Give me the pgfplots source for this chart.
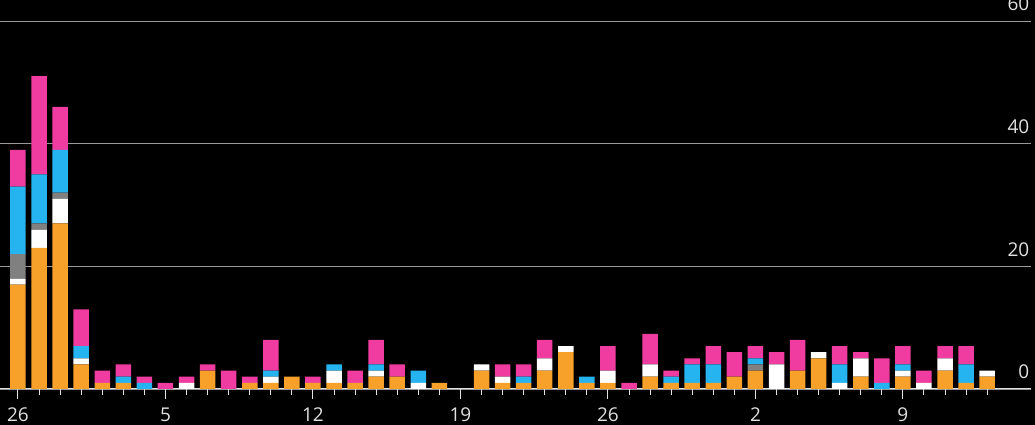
\documentclass[border=0pt]{standalone}
\usepackage{fontspec}
\setmainfont{Open Sans}
\usepackage{pgfplots}
\usepackage{pgfplotstable}
\pgfplotsset{compat=1.18}

\definecolor{cOrange}{RGB}{247,160,42}
\definecolor{cWhite}{RGB}{255,255,255}
\definecolor{cGray}{RGB}{128,128,128}
\definecolor{cBlue}{RGB}{38,180,240}
\definecolor{cPink}{RGB}{240,60,160}
\definecolor{txt}{RGB}{225,225,225}

% day index from Feb 26; o=orange w=white g=gray b=blue p=pink
\pgfplotstableread{
x  o  w  g  b  p
0  17 1  4  11 6
1  23 3  1  8  16
2  27 4  1  7  7
3  4  1  0  2  6
4  1  0  0  0  2
5  1  0  0  1  2
6  0  0  0  1  1
7  0  0  0  0  1
8  0  1  0  0  1
9  3  0  0  0  1
10 0  0  0  0  3
11 1  0  0  0  1
12 1  1  0  1  5
13 2  0  0  0  0
14 1  0  0  0  1
15 1  2  0  1  0
16 1  0  0  0  2
17 2  1  0  1  4
18 2  0  0  0  2
19 0  1  0  2  0
20 1  0  0  0  0
21 0  0  0  0  0
22 3  1  0  0  0
23 1  1  0  0  2
24 1  0  0  1  2
25 3  2  0  0  3
26 6  1  0  0  0
27 1  0  0  1  0
28 1  2  0  0  4
29 0  0  0  0  1
30 2  2  0  0  5
31 1  0  0  1  1
32 1  0  0  3  1
33 1  0  0  3  3
34 2  0  0  0  4
35 3  0  1  1  2
36 0  4  0  0  2
37 3  0  0  0  5
38 5  1  0  0  0
39 0  1  0  3  3
40 2  3  0  0  1
41 0  0  0  1  4
42 2  1  0  1  3
43 0  1  0  0  2
44 3  2  0  0  2
45 1  0  0  3  3
46 2  1  0  0  0
}\data

\begin{document}
\begin{tikzpicture}
\fill[black, use as bounding box] (0,-36pt) rectangle (1035pt,389pt);
\begin{axis}[
  scale only axis,
  width=1031.4pt, height=368pt,
  xmin=-0.854, xmax=48.1,
  ymin=0, ymax=60,
  ybar stacked,
  bar width=15.5pt,
  axis x line*=bottom,
  axis y line*=right,
  yticklabel pos=right,
  x axis line style={-, draw=txt, line width=1pt},
  y axis line style={draw=none},
  ymajorgrids,
  grid style={draw=gray!80, line width=0.8pt},
  /pgf/number format/assume math mode=true,
  ytick={0,20,40,60},
  ytick style={draw=none},
  xtick={0,7,...,42},
  xticklabels={26,5,12,19,26,2,9},
  minor xtick={1,...,46},
  tick align=outside,
  major tick length=10pt,
  minor tick length=6pt,
  xtick style={draw=txt, line width=1pt},
  xticklabel style={anchor=north, inner sep=0pt, yshift=-9pt, font=\fontsize{19}{19}\selectfont, text=txt},
  every axis plot/.append style={draw=none},
  every y tick label/.append style={anchor=base east, inner sep=0pt, xshift=-12pt, yshift=10pt, font=\fontsize{19}{19}\selectfont, text=txt},
]
\addplot[fill=cOrange] table[x=x, y=o] {\data};
\addplot[fill=cWhite] table[x=x, y=w] {\data};
\addplot[fill=cGray] table[x=x, y=g] {\data};
\addplot[fill=cBlue] table[x=x, y=b] {\data};
\addplot[fill=cPink] table[x=x, y=p] {\data};
\end{axis}
\end{tikzpicture}
\end{document}
